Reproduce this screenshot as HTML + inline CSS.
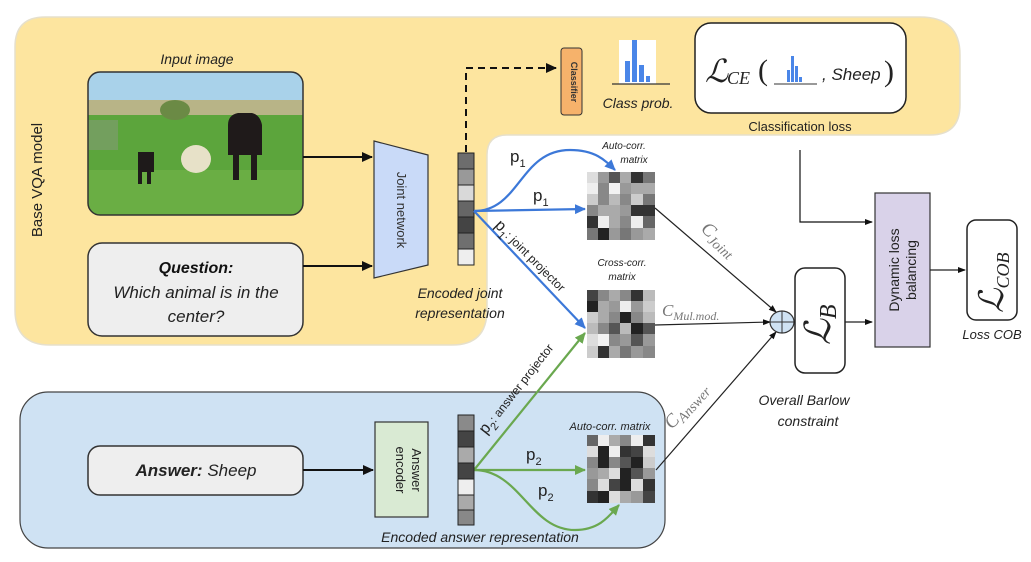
<!DOCTYPE html>
<html><head><meta charset="utf-8"><style>
html,body{margin:0;padding:0;background:#fff;}
svg{display:block;font-family:"Liberation Sans",sans-serif;}
</style></head><body>
<svg width="1031" height="562" viewBox="0 0 1031 562" xmlns="http://www.w3.org/2000/svg">
<defs>
<marker id="ak" markerWidth="8" markerHeight="8" refX="7" refY="4" orient="auto" markerUnits="userSpaceOnUse"><path d="M0,1 L8,4 L0,7 z" fill="#111"/></marker>
<marker id="ab" markerWidth="12" markerHeight="12" refX="10" refY="5" orient="auto" markerUnits="userSpaceOnUse"><path d="M0,0 L11,5 L0,10 z" fill="#3c78d8"/></marker>
<marker id="ag" markerWidth="12" markerHeight="12" refX="10" refY="5" orient="auto" markerUnits="userSpaceOnUse"><path d="M0,0 L11,5 L0,10 z" fill="#6aa84f"/></marker>
<marker id="ak2" markerWidth="12" markerHeight="12" refX="10" refY="5" orient="auto" markerUnits="userSpaceOnUse"><path d="M0,0 L11,5 L0,10 z" fill="#111"/></marker>
</defs>
<path d="M45,17 H920 Q960,17 960,55 V105 Q960,135 930,135 H507 Q487,135 487,155 V310 Q487,345 452,345 H50 Q15,345 15,310 V47 Q15,17 45,17 Z" fill="#fde59f" stroke="#e6e0cc" stroke-width="1.5"/>
<rect x="20" y="392" width="645" height="156" rx="28" fill="#cfe2f3" stroke="#444" stroke-width="1.2"/>
<text transform="translate(42,180) rotate(-90)" text-anchor="middle" font-size="15" fill="#222">Base VQA model</text>

<text x="197" y="64" text-anchor="middle" font-size="14" font-style="italic" fill="#222">Input image</text>
<clipPath id="ic"><rect x="88" y="72" width="215" height="143" rx="12"/></clipPath>
<g clip-path="url(#ic)">
<rect x="88" y="72" width="215" height="30" fill="#a9d2ea"/>
<rect x="88" y="100" width="215" height="22" fill="#b8b487"/>
<rect x="88" y="115" width="215" height="100" fill="#5ca53c"/>
<rect x="88" y="170" width="215" height="45" fill="#6aae44"/>
<ellipse cx="175" cy="110" rx="15" ry="10" fill="#6b8a45"/>
<path d="M228,125 q0,-10 10,-12 h14 q8,2 10,12 v30 h-5 v25 h-6 v-25 h-12 v25 h-6 v-25 h-5 z" fill="#1f1a1a"/>
<path d="M138,152 h16 v20 h-3 v12 h-4 v-12 h-5 v12 h-4 z" fill="#1e1a1a"/>
<ellipse cx="196" cy="159" rx="15" ry="14" fill="#e7e1c8"/>
<rect x="88" y="120" width="30" height="30" fill="#8a9a80" opacity="0.5"/>
</g>
<rect x="88" y="72" width="215" height="143" rx="12" fill="none" stroke="#333" stroke-width="1.5"/>

<rect x="88" y="243" width="215" height="93" rx="14" fill="#eeeeee" stroke="#333" stroke-width="1.5"/>
<text x="196" y="273" text-anchor="middle" font-size="16" font-weight="bold" font-style="italic" fill="#111">Question:</text>
<text x="196" y="298" text-anchor="middle" font-size="17" font-style="italic" fill="#222">Which animal is in the</text>
<text x="196" y="322" text-anchor="middle" font-size="17" font-style="italic" fill="#222">center?</text>

<line x1="303" y1="157" x2="372" y2="157" stroke="#111" stroke-width="2" marker-end="url(#ak2)"/>
<line x1="303" y1="266" x2="372" y2="266" stroke="#111" stroke-width="2" marker-end="url(#ak2)"/>

<path d="M374,141 L428,155 L428,265 L374,278 Z" fill="#c9daf8" stroke="#333" stroke-width="1.2"/>
<text transform="translate(397,210) rotate(90)" text-anchor="middle" font-size="13" fill="#333">Joint network</text>

<g stroke="#222" stroke-width="1">
<rect x="458" y="153" width="16" height="16" fill="#6d6d6d"/>
<rect x="458" y="169" width="16" height="16" fill="#999"/>
<rect x="458" y="185" width="16" height="16" fill="#d9d9d9"/>
<rect x="458" y="201" width="16" height="16" fill="#666"/>
<rect x="458" y="217" width="16" height="16" fill="#444"/>
<rect x="458" y="233" width="16" height="16" fill="#6f6f6f"/>
<rect x="458" y="249" width="16" height="16" fill="#eee"/>
</g>
<text x="460" y="298" text-anchor="middle" font-size="14" font-style="italic" fill="#222">Encoded joint</text>
<text x="460" y="318" text-anchor="middle" font-size="14" font-style="italic" fill="#222">representation</text>

<path d="M466,152 V68 H556" fill="none" stroke="#111" stroke-width="2" stroke-dasharray="7,5" marker-end="url(#ak2)"/>
<rect x="561" y="48" width="21" height="67" rx="3" fill="#f6b26b" stroke="#333"/>
<text transform="translate(571,82) rotate(90)" text-anchor="middle" font-size="9" font-weight="bold" fill="#333">Classifier</text>

<rect x="619" y="40" width="37" height="44" fill="#fff"/>
<g fill="#4a86e8"><rect x="625" y="61" width="5" height="21"/><rect x="632" y="40" width="5" height="42"/><rect x="639" y="65" width="5" height="17"/><rect x="646" y="76" width="4" height="6"/></g>
<line x1="612" y1="84" x2="670" y2="84" stroke="#333" stroke-width="1.3"/>
<text x="638" y="108" text-anchor="middle" font-size="14" font-style="italic" fill="#222">Class prob.</text>

<rect x="695" y="23" width="211" height="90" rx="16" fill="#fff" stroke="#222" stroke-width="1.5"/>
<text x="705" y="82" font-family="Liberation Serif,serif" font-size="32" font-style="italic" fill="#222">ℒ</text>
<text x="727" y="84" font-family="Liberation Serif,serif" font-size="18" font-style="italic" fill="#222">CE</text>
<text x="758" y="80" font-family="Liberation Serif,serif" font-size="30" fill="#222">(</text>
<g fill="#4a86e8"><rect x="787" y="70" width="3" height="12"/><rect x="791" y="56" width="3" height="26"/><rect x="795" y="66" width="3" height="16"/><rect x="799" y="77" width="3" height="5"/></g>
<line x1="774" y1="84" x2="817" y2="84" stroke="#333"/>
<text x="822" y="80" font-size="17" font-style="italic" fill="#222">, Sheep</text>
<text x="884" y="81" font-family="Liberation Serif,serif" font-size="30" fill="#222">)</text>
<text x="800" y="131" text-anchor="middle" font-size="13" fill="#222">Classification loss</text>

<path d="M800,150 V222 H872" fill="none" stroke="#111" stroke-width="1.2" marker-end="url(#ak)"/>

<g fill="none" stroke="#3c78d8" stroke-width="2.2">
<path d="M474,211 C520,211 520,150 570,150 C595,150 605,160 615,170" marker-end="url(#ab)"/>
<path d="M474,211 L585,209" marker-end="url(#ab)"/>
<path d="M474,211 L585,328" marker-end="url(#ab)"/>
</g>
<text x="510" y="162" font-size="17" fill="#222">p<tspan font-size="11" dy="5">1</tspan></text>
<text x="533" y="201" font-size="17" fill="#222">p<tspan font-size="11" dy="5">1</tspan></text>
<text transform="translate(494,226) rotate(45)" font-size="16" fill="#222">p<tspan font-size="11" dy="5">1</tspan><tspan dy="-5" font-size="12">: joint projector</tspan></text>

<g fill="none" stroke="#6aa84f" stroke-width="2.2">
<path d="M474,470 L585,333" marker-end="url(#ag)"/>
<path d="M474,470 L585,470" marker-end="url(#ag)"/>
<path d="M474,470 C520,470 530,530 575,530 C600,530 610,515 619,505" marker-end="url(#ag)"/>
</g>
<text transform="translate(486,435) rotate(-52)" font-size="16" fill="#222">p<tspan font-size="11" dy="5">2</tspan><tspan dy="-5" font-size="12">: answer projector</tspan></text>
<text x="526" y="460" font-size="17" fill="#222">p<tspan font-size="11" dy="5">2</tspan></text>
<text x="538" y="496" font-size="17" fill="#222">p<tspan font-size="11" dy="5">2</tspan></text>

<text x="624" y="149" text-anchor="middle" font-size="10" font-style="italic" fill="#222">Auto-corr.</text>
<text x="634" y="163" text-anchor="middle" font-size="10" font-style="italic" fill="#222">matrix</text>
<g transform="translate(587,172)" stroke="none">
<rect width="68" height="68" fill="#999"/>
<rect x="0" y="0" width="11" height="11" fill="#ddd"/><rect x="11" y="0" width="11" height="11" fill="#999"/><rect x="22" y="0" width="11" height="11" fill="#555"/><rect x="33" y="0" width="11" height="11" fill="#aaa"/><rect x="44" y="0" width="12" height="11" fill="#333"/><rect x="56" y="0" width="12" height="11" fill="#777"/>
<rect x="0" y="11" width="11" height="11" fill="#eee"/><rect x="11" y="11" width="11" height="11" fill="#888"/><rect x="22" y="11" width="11" height="11" fill="#f2f2f2"/><rect x="33" y="11" width="11" height="11" fill="#999"/><rect x="44" y="11" width="12" height="11" fill="#aaa"/><rect x="56" y="11" width="12" height="11" fill="#aaa"/>
<rect x="0" y="22" width="11" height="11" fill="#ccc"/><rect x="11" y="22" width="11" height="11" fill="#888"/><rect x="22" y="22" width="11" height="11" fill="#bbb"/><rect x="33" y="22" width="11" height="11" fill="#888"/><rect x="44" y="22" width="12" height="11" fill="#ccc"/><rect x="56" y="22" width="12" height="11" fill="#777"/>
<rect x="0" y="33" width="11" height="11" fill="#888"/><rect x="11" y="33" width="11" height="11" fill="#aaa"/><rect x="22" y="33" width="11" height="11" fill="#aaa"/><rect x="33" y="33" width="11" height="11" fill="#999"/><rect x="44" y="33" width="12" height="11" fill="#333"/><rect x="56" y="33" width="12" height="11" fill="#333"/>
<rect x="0" y="44" width="11" height="12" fill="#333"/><rect x="11" y="44" width="11" height="12" fill="#eee"/><rect x="22" y="44" width="11" height="12" fill="#aaa"/><rect x="33" y="44" width="11" height="12" fill="#888"/><rect x="44" y="44" width="12" height="12" fill="#eee"/><rect x="56" y="44" width="12" height="12" fill="#666"/>
<rect x="0" y="56" width="11" height="12" fill="#777"/><rect x="11" y="56" width="11" height="12" fill="#222"/><rect x="22" y="56" width="11" height="12" fill="#999"/><rect x="33" y="56" width="11" height="12" fill="#777"/><rect x="44" y="56" width="12" height="12" fill="#999"/><rect x="56" y="56" width="12" height="12" fill="#aaa"/>
</g>
<text x="622" y="266" text-anchor="middle" font-size="10" font-style="italic" fill="#222">Cross-corr.</text>
<text x="622" y="280" text-anchor="middle" font-size="10" font-style="italic" fill="#222">matrix</text>
<g transform="translate(587,290)">
<rect width="68" height="68" fill="#999"/>
<rect x="0" y="0" width="11" height="11" fill="#444"/><rect x="11" y="0" width="11" height="11" fill="#888"/><rect x="22" y="0" width="11" height="11" fill="#aaa"/><rect x="33" y="0" width="11" height="11" fill="#888"/><rect x="44" y="0" width="12" height="11" fill="#333"/><rect x="56" y="0" width="12" height="11" fill="#bbb"/>
<rect x="0" y="11" width="11" height="11" fill="#222"/><rect x="11" y="11" width="11" height="11" fill="#aaa"/><rect x="22" y="11" width="11" height="11" fill="#999"/><rect x="33" y="11" width="11" height="11" fill="#eee"/><rect x="44" y="11" width="12" height="11" fill="#999"/><rect x="56" y="11" width="12" height="11" fill="#ccc"/>
<rect x="0" y="22" width="11" height="11" fill="#ccc"/><rect x="11" y="22" width="11" height="11" fill="#aaa"/><rect x="22" y="22" width="11" height="11" fill="#888"/><rect x="33" y="22" width="11" height="11" fill="#222"/><rect x="44" y="22" width="12" height="11" fill="#888"/><rect x="56" y="22" width="12" height="11" fill="#bbb"/>
<rect x="0" y="33" width="11" height="11" fill="#bbb"/><rect x="11" y="33" width="11" height="11" fill="#888"/><rect x="22" y="33" width="11" height="11" fill="#555"/><rect x="33" y="33" width="11" height="11" fill="#bbb"/><rect x="44" y="33" width="12" height="11" fill="#222"/><rect x="56" y="33" width="12" height="11" fill="#555"/>
<rect x="0" y="44" width="11" height="12" fill="#ddd"/><rect x="11" y="44" width="11" height="12" fill="#f2f2f2"/><rect x="22" y="44" width="11" height="12" fill="#888"/><rect x="33" y="44" width="11" height="12" fill="#999"/><rect x="44" y="44" width="12" height="12" fill="#555"/><rect x="56" y="44" width="12" height="12" fill="#999"/>
<rect x="0" y="56" width="11" height="12" fill="#ccc"/><rect x="11" y="56" width="11" height="12" fill="#333"/><rect x="22" y="56" width="11" height="12" fill="#aaa"/><rect x="33" y="56" width="11" height="12" fill="#777"/><rect x="44" y="56" width="12" height="12" fill="#999"/><rect x="56" y="56" width="12" height="12" fill="#888"/>
</g>
<text x="610" y="430" text-anchor="middle" font-size="11" font-style="italic" fill="#222">Auto-corr. matrix</text>
<g transform="translate(587,435)">
<rect width="68" height="68" fill="#888"/>
<rect x="0" y="0" width="11" height="11" fill="#666"/><rect x="11" y="0" width="11" height="11" fill="#eee"/><rect x="22" y="0" width="11" height="11" fill="#aaa"/><rect x="33" y="0" width="11" height="11" fill="#888"/><rect x="44" y="0" width="12" height="11" fill="#eee"/><rect x="56" y="0" width="12" height="11" fill="#333"/>
<rect x="0" y="11" width="11" height="11" fill="#ddd"/><rect x="11" y="11" width="11" height="11" fill="#222"/><rect x="22" y="11" width="11" height="11" fill="#eee"/><rect x="33" y="11" width="11" height="11" fill="#333"/><rect x="44" y="11" width="12" height="11" fill="#444"/><rect x="56" y="11" width="12" height="11" fill="#ddd"/>
<rect x="0" y="22" width="11" height="11" fill="#888"/><rect x="11" y="22" width="11" height="11" fill="#222"/><rect x="22" y="22" width="11" height="11" fill="#888"/><rect x="33" y="22" width="11" height="11" fill="#555"/><rect x="44" y="22" width="12" height="11" fill="#222"/><rect x="56" y="22" width="12" height="11" fill="#ccc"/>
<rect x="0" y="33" width="11" height="11" fill="#999"/><rect x="11" y="33" width="11" height="11" fill="#aaa"/><rect x="22" y="33" width="11" height="11" fill="#ddd"/><rect x="33" y="33" width="11" height="11" fill="#222"/><rect x="44" y="33" width="12" height="11" fill="#555"/><rect x="56" y="33" width="12" height="11" fill="#999"/>
<rect x="0" y="44" width="11" height="12" fill="#888"/><rect x="11" y="44" width="11" height="12" fill="#ddd"/><rect x="22" y="44" width="11" height="12" fill="#444"/><rect x="33" y="44" width="11" height="12" fill="#222"/><rect x="44" y="44" width="12" height="12" fill="#ddd"/><rect x="56" y="44" width="12" height="12" fill="#333"/>
<rect x="0" y="56" width="11" height="12" fill="#333"/><rect x="11" y="56" width="11" height="12" fill="#222"/><rect x="22" y="56" width="11" height="12" fill="#ddd"/><rect x="33" y="56" width="11" height="12" fill="#aaa"/><rect x="44" y="56" width="12" height="12" fill="#999"/><rect x="56" y="56" width="12" height="12" fill="#444"/>
</g>

<line x1="655" y1="208" x2="776" y2="312" stroke="#222" stroke-width="1.2" marker-end="url(#ak)"/>
<line x1="655" y1="325" x2="770" y2="322" stroke="#222" stroke-width="1.2" marker-end="url(#ak)"/>
<line x1="656" y1="470" x2="776" y2="332" stroke="#222" stroke-width="1.2" marker-end="url(#ak)"/>
<text transform="translate(700,230) rotate(42)" font-family="Liberation Serif,serif" font-size="19" font-style="italic" fill="#777">C<tspan font-size="14" dy="4">Joint</tspan></text>
<text x="662" y="316" font-family="Liberation Serif,serif" font-size="17" font-style="italic" fill="#777">C<tspan font-size="12" dy="4">Mul.mod.</tspan></text>
<text transform="translate(672,430) rotate(-48)" font-family="Liberation Serif,serif" font-size="19" font-style="italic" fill="#777">C<tspan font-size="14" dy="4">Answer</tspan></text>

<ellipse cx="782" cy="322" rx="12" ry="11" fill="#cfe2f3" stroke="#333" stroke-width="1.2"/>
<line x1="770" y1="322" x2="794" y2="322" stroke="#333"/><line x1="782" y1="311" x2="782" y2="333" stroke="#333"/>

<rect x="795" y="268" width="50" height="105" rx="10" fill="#fff" stroke="#222" stroke-width="1.5"/>
<text transform="translate(830,345) rotate(-90)" font-family="Liberation Serif,serif" font-size="36" font-style="italic" fill="#222">ℒ<tspan font-size="24" dy="6">B</tspan></text>
<line x1="845" y1="322" x2="872" y2="322" stroke="#222" stroke-width="1.2" marker-end="url(#ak)"/>
<text x="804" y="405" text-anchor="middle" font-size="14" font-style="italic" fill="#222">Overall Barlow</text>
<text x="808" y="426" text-anchor="middle" font-size="14" font-style="italic" fill="#222">constraint</text>

<rect x="875" y="193" width="55" height="154" fill="#d9d2e9" stroke="#333" stroke-width="1.2"/>
<text transform="translate(899,270) rotate(-90)" text-anchor="middle" font-size="14" fill="#222">Dynamic loss</text>
<text transform="translate(916,270) rotate(-90)" text-anchor="middle" font-size="14" fill="#222">balancing</text>
<line x1="930" y1="270" x2="965" y2="270" stroke="#222" stroke-width="1.2" marker-end="url(#ak)"/>

<rect x="967" y="220" width="50" height="100" rx="9" fill="#fff" stroke="#222" stroke-width="1.5"/>
<text transform="translate(1003,313) rotate(-90)" font-family="Liberation Serif,serif" font-size="34" font-style="italic" fill="#222">ℒ<tspan font-size="18" dy="6">COB</tspan></text>
<text x="992" y="339" text-anchor="middle" font-size="13" font-style="italic" fill="#222">Loss COB</text>

<rect x="88" y="446" width="215" height="49" rx="12" fill="#eeeeee" stroke="#333" stroke-width="1.5"/>
<text x="196" y="476" text-anchor="middle" font-size="17" font-style="italic" fill="#222"><tspan font-weight="bold">Answer:</tspan> Sheep</text>
<line x1="303" y1="470" x2="373" y2="470" stroke="#111" stroke-width="2" marker-end="url(#ak2)"/>
<rect x="375" y="422" width="53" height="95" fill="#d9ead3" stroke="#333" stroke-width="1.2"/>
<text transform="translate(412,470) rotate(90)" text-anchor="middle" font-size="13" fill="#222">Answer</text>
<text transform="translate(396,470) rotate(90)" text-anchor="middle" font-size="13" fill="#222">encoder</text>
<g stroke="#222" stroke-width="1">
<rect x="458" y="415" width="16" height="16" fill="#8a8a8a"/>
<rect x="458" y="431" width="16" height="16" fill="#444"/>
<rect x="458" y="447" width="16" height="16" fill="#aaa"/>
<rect x="458" y="463" width="16" height="16" fill="#444"/>
<rect x="458" y="479" width="16" height="16" fill="#eee"/>
<rect x="458" y="495" width="16" height="15" fill="#aaa"/>
<rect x="458" y="510" width="16" height="15" fill="#888"/>
</g>
<text x="480" y="542" text-anchor="middle" font-size="14" font-style="italic" fill="#222">Encoded answer representation</text>
</svg>
</body></html>
